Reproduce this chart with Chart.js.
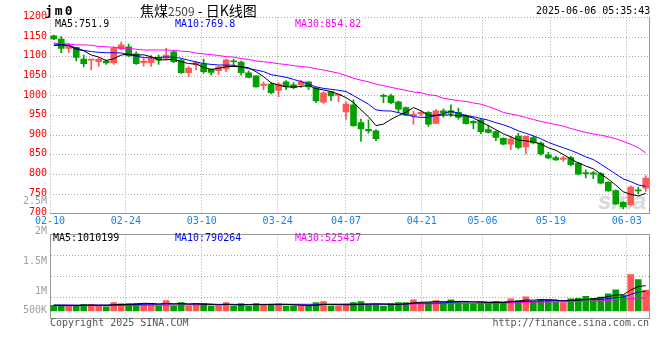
<!DOCTYPE html>
<html><head><meta charset="utf-8">
<script src="https://cdn.jsdelivr.net/npm/chart.js@4/dist/chart.umd.min.js"></script>
<style>
html,body{margin:0;padding:0;background:#fff;}
#wrap{position:relative;width:660px;height:360px;overflow:hidden;font-family:"DejaVu Sans Mono",monospace;font-size:10px;}
.t{position:absolute;white-space:pre;line-height:12px;}
canvas{position:absolute;left:0;}
</style></head><body>
<div id="wrap">
<div class="t" style="left:598px;top:188px;font:italic bold 24px 'Liberation Sans';line-height:26px;color:#d9d9d9;">sina</div>
<canvas id="main" width="660" height="240" style="top:0"></canvas>
<canvas id="vol" width="660" height="100" style="top:225px"></canvas>
<div class="t" style="left:45px;top:3px;font:bold 13px 'DejaVu Sans Mono';letter-spacing:2px;line-height:15px;">jm0</div>
<div class="t" style="left:140px;top:2px;font:14px 'Noto Sans CJK SC';line-height:16px;">焦煤<span style="color:#444;font-size:12px;">2509</span> - 日K线图</div>
<div class="t" id="stamp" style="left:536px;top:5px;font-size:10px;"></div>
<div id="legMain"></div>
<div id="legVol"></div>
<div id="volLbl"></div>
<div class="t" style="left:50px;top:317px;color:#555;">Copyright 2025 SINA.COM</div>
<div class="t" style="right:11px;top:317px;color:#555;">http://finance.sina.com.cn</div>
</div>
<script>
const stamp = '2025-06-06 05:35:43';
const dates = ['02-10','02-11','02-12','02-13','02-14','02-17','02-18','02-19','02-20','02-21',
'02-24','02-25','02-26','02-27','02-28','03-03','03-04','03-05','03-06','03-07',
'03-10','03-11','03-12','03-13','03-14','03-17','03-18','03-19','03-20','03-21',
'03-24','03-25','03-26','03-27','03-28','03-31','04-01','04-02','04-03',
'04-07','04-08','04-09','04-10','04-11','04-14','04-15','04-16','04-17','04-18',
'04-21','04-22','04-23','04-24','04-25','04-28','04-29','04-30',
'05-06','05-07','05-08','05-09','05-12','05-13','05-14','05-15','05-16',
'05-19','05-20','05-21','05-22','05-23','05-26','05-27','05-28','05-29','05-30',
'06-03','06-04','06-05','06-06'];
const dateTicks = ['02-10','02-24','03-10','03-24','04-07','04-21','05-06','05-19','06-03'];
const priceTicks = [700,750,800,850,900,950,1000,1050,1100,1150,1200];
const volTickLabels = ['2.5M','2M','1.5M','1M','500K'];

const open  = [1153,1145,1121,1124,1094,1091,1087,1089,1084,1120,1125,1107,1085,1085,1097,1096,1112,1091,1059,1079,
1081,1068,1064,1069,1089,1086,1059,1051,1027,1030,1014,1036,1028,1028,1036,1020,984,1011,1001,959,
977,932,915,911,1001,1000,985,970,950,954,958,930,962,962,958,949,935,939,914,909,
892,877,898,870,894,880,850,843,838,843,829,805,804,802,780,759,729,723,761,765];
const high  = [1155,1151,1134,1124,1104,1093,1096,1092,1125,1137,1132,1112,1095,1104,1104,1121,1115,1093,1075,1087,
1094,1069,1076,1094,1094,1089,1064,1051,1036,1034,1034,1039,1034,1040,1036,1022,1011,1011,1004,985,
990,941,939,914,1005,1005,987,972,961,960,960,965,967,977,969,952,937,942,926,911,
893,897,905,898,897,883,856,847,846,846,831,812,808,805,782,761,731,771,768,797];
const low   = [1143,1110,1110,1089,1074,1066,1075,1080,1080,1117,1100,1080,1076,1075,1080,1092,1085,1057,1049,1066,
1057,1053,1055,1062,1075,1053,1046,1022,1016,1005,998,1016,1018,1021,1016,983,981,988,985,940,
922,884,905,886,983,980,958,950,928,950,922,929,946,947,941,928,916,904,905,886,
875,863,865,852,878,849,840,836,833,822,799,791,789,777,757,723,712,719,751,757];
const close = [1145,1121,1128,1098,1082,1092,1094,1084,1121,1130,1102,1082,1089,1095,1091,1104,1087,1059,1071,1085,
1062,1060,1074,1092,1087,1059,1047,1023,1030,1008,1030,1024,1021,1036,1023,987,1008,1000,1004,979,
924,916,911,891,999,983,966,951,953,958,928,962,956,956,945,929,931,909,907,894,
877,891,869,897,880,852,842,837,842,825,801,802,801,778,758,725,717,768,758,791];

const ma5  = [1128,1130,1128,1119,1115.0,1104.4,1098.9,1090.1,1094.7,1104.3,1106.2,1103.8,1104.8,1099.6,1091.8,1092.2,1093.2,1087.2,1082.4,1081.2,
1072.8,1067.4,1070.4,1074.5,1074.9,1074.4,1071.8,1061.6,1049.2,1033.5,1027.6,1023.1,1022.7,1024.0,1026.9,1018.4,1015.3,1011.1,1004.6,995.8,
983.1,964.6,946.8,924.3,928.3,940.1,950.1,958.1,970.4,962.1,951.1,950.3,951.3,951.9,949.4,949.6,943.4,934.0,924.2,914.0,
903.6,895.7,887.6,885.5,882.7,877.7,867.8,861.5,850.7,839.6,829.4,821.4,814.2,801.3,788.1,772.9,755.9,749.3,745.2,751.9];
const ma10 = [1132,1131,1129,1122,1116,1113,1111,1110,1110,1109.6,1105.3,1101.4,1097.5,1097.1,1098.0,1099.2,1098.5,1096.0,1091.0,1086.5,
1082.5,1080.3,1078.8,1078.5,1078.1,1073.6,1069.6,1066.0,1061.9,1054.2,1051.0,1047.4,1042.1,1036.6,1030.2,1023.0,1019.2,1016.9,1014.3,1011.3,
1000.7,989.9,978.9,964.4,962.0,961.6,957.4,952.5,947.4,945.2,945.6,950.2,954.7,961.2,955.8,950.4,946.9,942.7,938.1,931.7,
926.6,919.6,910.8,904.9,898.4,890.7,881.7,874.6,868.1,861.2,853.6,844.6,837.9,826.0,813.8,801.1,788.7,781.7,773.3,769.8];
const ma30 = [1135,1133,1132,1130,1130,1129,1126,1125,1124,1122,1121,1119,1117,1117,1117,1117,1116,1114,1113,1109,
1107,1105,1103,1100,1099,1095,1093,1089,1087,1085,1082,1080,1077,1075,1073,1069,1066,1062,1058,1052,
1045,1040,1036,1030,1026,1022,1018,1014,1010,1008,1003,1001,994,991,988,986,982,979,973,966,
958,954,950,945,940,935,931,927,923,917,912,907,903,900,896,891,884,877,868,854.82];

const volume = [224600,226100,187900,225300,262800,263400,224700,163200,338500,300200,
299600,301100,299800,300400,200300,412700,199800,338100,200500,300300,
299700,200100,199600,338400,200200,300500,199900,299800,263100,262700,
300300,199800,200400,200100,199700,338200,375300,200200,199900,238100,
337800,375400,238300,237700,200100,299900,338300,337900,450200,324800,
338100,412900,338300,450400,375200,337700,300100,338400,337900,375300,
337800,488200,412700,563100,375400,449800,450300,374700,338200,487900,
510300,589700,510200,560400,682800,850300,639900,1460200,1259800,840800];
const volMa5 = [230000,228000,226000,224000,225000,233000,233000,228000,250000,258000,
265000,280000,308000,300000,280000,303000,283000,290000,270000,290000,
268000,268000,240000,268000,248000,248000,248000,268000,253000,265000,
265000,265000,245000,233000,220000,228000,263000,263000,263000,270000,
270000,270000,278000,285000,278000,270000,263000,283000,325000,350000,
358000,373000,373000,373000,383000,383000,360000,360000,338000,338000,
338000,375000,390000,435000,435000,458000,450000,443000,398000,420000,
432000,460000,487000,532000,571000,639000,649000,839000,979000,1010199];
const volMa10 = [240000,238000,236000,234000,232000,234000,236000,238000,240000,242000,
249000,257000,268000,275000,269000,284000,281000,299000,285000,285000,
285000,275000,265000,269000,269000,258000,258000,254000,260000,256000,
256000,256000,256000,243000,243000,246000,264000,254000,248000,245000,
249000,266000,270000,274000,274000,270000,267000,280000,305000,314000,
314000,318000,328000,349000,367000,370000,367000,367000,355000,360000,
360000,368000,375000,387000,387000,398000,413000,417000,417000,428000,
445000,455000,465000,465000,495000,535000,554000,663000,755000,790264];
const volMa30 = [215000,215000,214000,214000,214000,215000,215000,216000,217000,218000,
220000,222000,224000,226000,228000,231000,233000,236000,239000,242000,
245000,248000,251000,254000,257000,260000,263000,266000,269000,271000,
274000,273000,273000,272000,270000,273000,278000,279000,274000,272000,
273000,276000,274000,272000,272000,268000,273000,273000,281000,282000,
283000,290000,295000,299000,304000,306000,309000,310000,313000,316000,
318000,327000,334000,347000,352000,356000,359000,364000,369000,377000,
383000,390000,399000,410000,426000,445000,455000,492000,519000,525437];

const UP = '#ff5757', DOWN = '#00a000';
const GRID = '#aaaaaa', EDGE = '#999999';
const C5 = '#000000', C10 = '#0000ff', C30 = '#ff00ff';
const candleColor = close.map((c, i) => c >= open[i] ? UP : DOWN);
const lastIdx = dates.length - 1;
const dateIdx = dateTicks.map(d => dates.indexOf(d));

document.getElementById('stamp').textContent = stamp;
function legend(id, top, items) {
  const el = document.getElementById(id);
  items.forEach(([txt, col, left]) => {
    const d = document.createElement('div');
    d.className = 't'; d.style.left = left + 'px'; d.style.top = top + 'px'; d.style.color = col;
    d.textContent = txt; el.appendChild(d);
  });
}
const fmt2 = v => (Math.round(v * 100) / 100).toString();
legend('legMain', 18, [['MA5:' + ma5[lastIdx].toFixed(1), C5, 55], ['MA10:' + ma10[lastIdx].toFixed(1), C10, 175], ['MA30:' + fmt2(ma30[lastIdx]), C30, 295]]);
legend('legVol', 232, [['MA5:' + volMa5[lastIdx], C5, 53], ['MA10:' + volMa10[lastIdx], C10, 175], ['MA30:' + volMa30[lastIdx], C30, 295]]);
(function(){
  const el = document.getElementById('volLbl');
  volTickLabels.forEach((t, i) => {
    const d = document.createElement('div');
    d.className = 't'; d.style.right = '613px'; d.style.color = '#a0a0a0';
    d.style.top = (i < 4 ? 195 + 30 * i : 304) + 'px';
    d.textContent = t; el.appendChild(d);
  });
})();

Chart.defaults.font.family = "'DejaVu Sans Mono', monospace";
Chart.defaults.font.size = 10;
Chart.defaults.animation = false;

function dateAxis(showLabels, h) {
  return {
    type: 'linear', position: 'bottom', min: 0, max: lastIdx, offset: false, bounds: 'ticks',
    afterBuildTicks: s => { s.ticks = dateIdx.map(v => ({ value: v })); },
    ticks: { display: showLabels, autoSkip: false, maxRotation: 0, padding: 2, color: '#1a80e6',
      callback: v => dates[v] },
    grid: { color: GRID, lineWidth: 1, drawTicks: false, offset: false },
    border: { display: true, color: EDGE, dash: [1, 2] },
    afterFit: s => { s.height = h; }
  };
}
const rightEdge = {
  type: 'linear', position: 'right', min: 0, max: 1,
  ticks: { display: false }, grid: { display: false, drawTicks: false },
  border: { display: true, color: EDGE }, afterFit: s => { s.width = 0; }
};
const common = {
  responsive: false, animation: false,
  plugins: { legend: { display: false }, tooltip: { enabled: false } },
  events: []
};

new Chart(document.getElementById('main'), {
  type: 'bar',
  data: {
    labels: dates,
    datasets: [
      { type: 'line', data: ma5, borderColor: C5, borderWidth: 1, pointRadius: 0, order: 0 },
      { type: 'line', data: ma10, borderColor: C10, borderWidth: 1, pointRadius: 0, order: 0 },
      { type: 'line', data: ma30, borderColor: C30, borderWidth: 1, pointRadius: 0, order: 0 },
      { type: 'bar', data: low.map((l, i) => [l, high[i]]), backgroundColor: candleColor,
        barThickness: 1, grouped: false, order: 2 },
      { type: 'bar', data: open.map((o, i) => [Math.min(o, close[i]), Math.max(o, close[i])]),
        backgroundColor: candleColor, barThickness: 6, minBarLength: 1, grouped: false, order: 1 }
    ]
  },
  options: Object.assign({}, common, {
    layout: { padding: { top: 17.4, right: 10.5, left: 0, bottom: 0 } },
    scales: {
      x: { type: 'category', display: false, offset: true },
      xd: dateAxis(true, 26.3),
      y: {
        type: 'linear', position: 'left', min: 700, max: 1200,
        afterBuildTicks: s => { s.ticks = priceTicks.map(v => ({ value: v })); },
        ticks: { color: '#ff0000', padding: 3, labelOffset: -1, callback: v => String(v) },
        grid: { color: GRID, drawTicks: false },
        border: { display: false, dash: [1, 2] },
        afterFit: s => { s.width = 50; }
      },
      yR: rightEdge
    }
  })
});

new Chart(document.getElementById('vol'), {
  type: 'bar',
  data: {
    labels: dates,
    datasets: [
      { type: 'line', data: volMa5, borderColor: C5, borderWidth: 1, pointRadius: 0, order: 0 },
      { type: 'line', data: volMa10, borderColor: C10, borderWidth: 1, pointRadius: 0, order: 0 },
      { type: 'line', data: volMa30, borderColor: C30, borderWidth: 1, pointRadius: 0, order: 0 },
      { type: 'bar', data: volume, backgroundColor: candleColor, barThickness: 6, order: 1 }
    ]
  },
  options: Object.assign({}, common, {
    layout: { padding: { top: 9.7, right: 10.5, left: 0, bottom: 7 } },
    scales: {
      x: { type: 'category', display: false, offset: true },
      xd: dateAxis(false, 0),
      xT: { type: 'linear', position: 'top', min: 0, max: 1, offset: false, ticks: { display: false },
        grid: { display: false, drawTicks: false, offset: false }, border: { display: true, color: EDGE },
        afterFit: s => { s.height = 0; } },
      y: {
        type: 'linear', position: 'left', min: -280000, max: 3050000,
        afterBuildTicks: s => { const a = s.min, b = s.max; s.ticks = [1, 2, 3].map(k => ({ value: a + (b - a) * k / 4 })); },
        ticks: { display: false },
        grid: { color: GRID, drawTicks: false },
        border: { display: true, color: EDGE, dash: [1, 2] },
        afterFit: s => { s.width = 50; }
      },
      yR: rightEdge
    }
  })
});
</script>
</body></html>
